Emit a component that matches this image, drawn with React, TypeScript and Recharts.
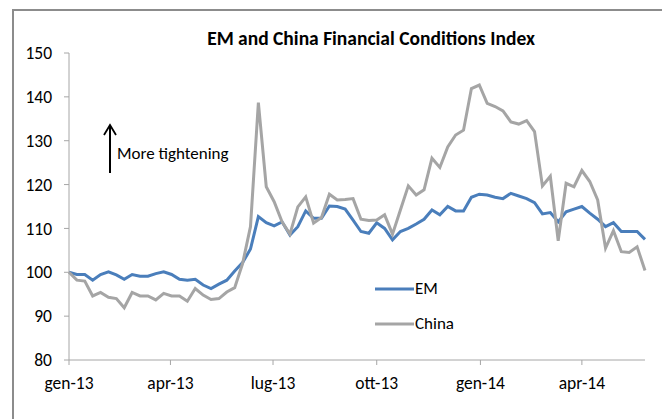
import React from "react";
import { LineChart, Line, XAxis, YAxis, Legend } from "recharts";

const dates = [
  "2013-01-01","2013-01-08","2013-01-15","2013-01-22","2013-01-29","2013-02-05","2013-02-12","2013-02-19","2013-02-26",
  "2013-03-05","2013-03-12","2013-03-19","2013-03-26","2013-04-02","2013-04-09","2013-04-16","2013-04-23","2013-04-30",
  "2013-05-07","2013-05-14","2013-05-21","2013-05-28","2013-06-04","2013-06-11","2013-06-18","2013-06-25","2013-07-02",
  "2013-07-09","2013-07-16","2013-07-23","2013-07-30","2013-08-06","2013-08-13","2013-08-20","2013-08-27","2013-09-03",
  "2013-09-10","2013-09-17","2013-09-24","2013-10-01","2013-10-08","2013-10-15","2013-10-22","2013-10-29","2013-11-05",
  "2013-11-12","2013-11-19","2013-11-26","2013-12-03","2013-12-10","2013-12-17","2013-12-24","2013-12-31","2014-01-07",
  "2014-01-14","2014-01-21","2014-01-28","2014-02-04","2014-02-11","2014-02-18","2014-02-25","2014-03-04","2014-03-11",
  "2014-03-18","2014-03-25","2014-04-01","2014-04-08","2014-04-15","2014-04-22","2014-04-29","2014-05-06","2014-05-13",
  "2014-05-20","2014-05-27",
];

const emValues = [
  100, 99.5, 99.5, 98.2, 99.5, 100.1, 99.4, 98.4, 99.5, 99.1,
  99.1, 99.7, 100.1, 99.5, 98.4, 98.2, 98.4, 97.1, 96.3, 97.3,
  98.2, 100.3, 102.2, 105.3, 112.7, 111.3, 110.6, 111.5, 108.5, 110.4,
  114, 112.3, 112.3, 115.1, 115.0, 114.4, 111.9, 109.3, 108.9, 111.3,
  110, 107.4, 109.3, 110, 111, 112.1, 114.2, 113.1, 115, 114,
  114, 117.1, 117.8, 117.6, 117.1, 116.8, 118, 117.4, 116.8, 115.9,
  113.3, 113.6, 111.5, 113.8, 114.4, 115, 113.5, 112.1, 110.4, 111.3,
  109.3, 109.3, 109.3, 107.5,
];

const chinaValues = [
  100, 98.2, 98, 94.6, 95.4, 94.3, 94.0, 91.9, 95.4, 94.6,
  94.6, 93.7, 95.2, 94.6, 94.6, 93.4, 96.3, 94.8, 93.8, 94.0,
  95.5, 96.5, 102, 110.4, 138.7, 119.5, 116.1, 111.5, 108.7, 114.9,
  117.2, 111.2, 112.5, 117.8, 116.5, 116.6, 116.8, 112.1, 111.8, 111.9,
  113.1, 108.7, 114.2, 119.7, 117.6, 118.8, 126, 123.9, 128.6, 131.3,
  132.4, 141.9, 142.7, 138.5, 137.8, 136.8, 134.3, 133.8, 134.6, 132.1,
  119.7, 121.9, 107.2, 120.3, 119.5, 123.2, 120.7, 116.5, 105.5, 109.5,
  104.7, 104.5, 105.8, 100.4,
];

const tickDates = ["2013-01-01", "2013-04-01", "2013-07-01", "2013-10-01", "2014-01-01", "2014-04-01"];
const tickLabels = ["gen-13", "apr-13", "lug-13", "ott-13", "gen-14", "apr-14"];
const yTicks = [80, 90, 100, 110, 120, 130, 140, 150];

const data = dates.map((d, i) => ({ t: Date.parse(d), EM: emValues[i], China: chinaValues[i] }));
const xTicks = tickDates.map((d) => Date.parse(d));
const labelFor = (v: number) => {
  const idx = xTicks.indexOf(v);
  return idx >= 0 ? tickLabels[idx] : "";
};

const FONT = "Carlito, Lato, sans-serif";

const LegendContent = () => (
  <div style={{ fontFamily: FONT, fontSize: 17, color: "#000" }}>
    {[
      { name: "EM", color: "#4a7ebb" },
      { name: "China", color: "#a5a5a5" },
    ].map((it) => (
      <div key={it.name} style={{ display: "flex", alignItems: "center", height: 35 }}>
        <svg width={39} height={6} style={{ display: "block" }}>
          <line x1={0} y1={3} x2={39} y2={3} stroke={it.color} strokeWidth={3} />
        </svg>
        <span style={{ marginLeft: 1 }}>{it.name}</span>
      </div>
    ))}
  </div>
);

export default function App() {
  return (
    <div style={{ position: "absolute", left: 0, top: 0, width: 662, height: 419, overflow: "hidden", background: "#fff" }}>
      <div
        style={{
          position: "absolute",
          left: 12,
          top: 9,
          width: 720,
          height: 460,
          border: "2px solid #8c8c8c",
          boxSizing: "border-box",
        }}
      />
      <div style={{ position: "absolute", left: 0, top: 0 }}>
        <LineChart width={662} height={419} data={data} margin={{ top: 53, right: 17, bottom: 29, left: 19 }}>
          <XAxis
            dataKey="t"
            type="number"
            scale="linear"
            domain={["dataMin", "dataMax"]}
            ticks={xTicks}
            tickFormatter={labelFor}
            height={30}
            tickSize={5}
            tickMargin={12}
            stroke="#a6a6a6"
            tick={{ fill: "#000", fontSize: 17.5, fontFamily: FONT }}
            interval={0}
          />
          <YAxis
            domain={[80, 150]}
            ticks={yTicks}
            width={50}
            tickSize={5}
            tickMargin={12}
            stroke="#a6a6a6"
            tick={{ fill: "#000", fontSize: 17.5, fontFamily: FONT }}
            interval={0}
          />
          <Legend
            layout="vertical"
            align="center"
            verticalAlign="middle"
            content={<LegendContent />}
            wrapperStyle={{ position: "absolute", left: 375, top: 271, width: 120, bottom: "auto", right: "auto" }}
          />
          <Line type="linear" dataKey="EM" stroke="#4a7ebb" strokeWidth={3} dot={false} isAnimationActive={false} />
          <Line type="linear" dataKey="China" stroke="#a5a5a5" strokeWidth={3} dot={false} isAnimationActive={false} />
        </LineChart>
      </div>
      <div
        style={{
          position: "absolute",
          left: 171,
          top: 26,
          width: 400,
          textAlign: "center",
          fontFamily: FONT,
          fontWeight: 700,
          fontSize: 19.5,
          color: "#000",
          lineHeight: "24px",
        }}
      >
        EM and China Financial Conditions Index
      </div>
      <svg style={{ position: "absolute", left: 100, top: 120 }} width={20} height={60}>
        <line x1={10} y1={5} x2={10} y2={53} stroke="#000" strokeWidth={2} />
        <polyline points="4,15 10,5 16,15" fill="none" stroke="#000" strokeWidth={1.8} />
      </svg>
      <div
        style={{
          position: "absolute",
          left: 117,
          top: 143,
          fontFamily: FONT,
          fontSize: 17,
          color: "#000",
          lineHeight: "22px",
          whiteSpace: "nowrap",
        }}
      >
        More tightening
      </div>
    </div>
  );
}
